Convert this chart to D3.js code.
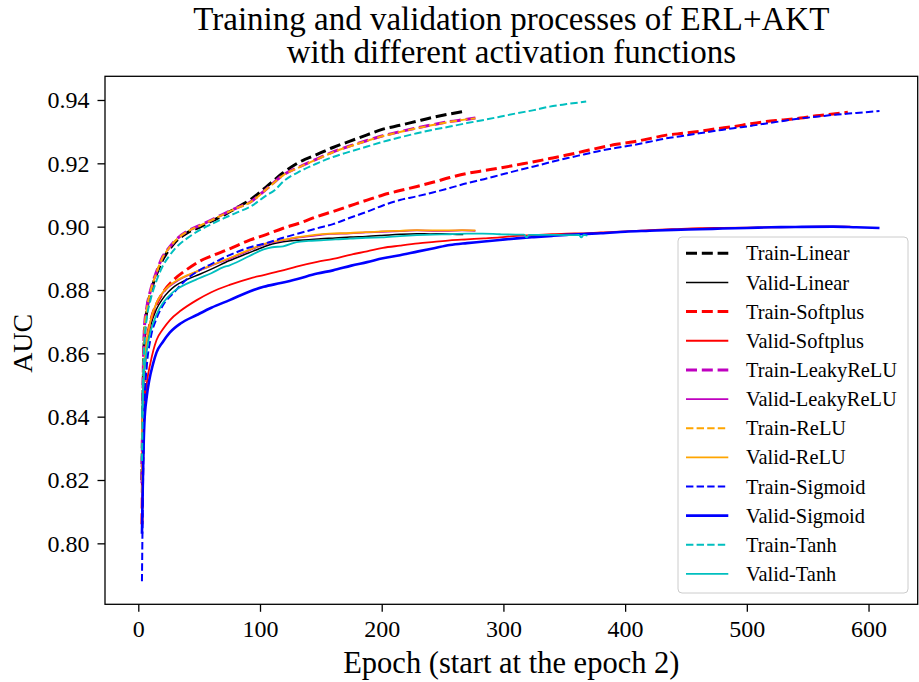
<!DOCTYPE html>
<html><head><meta charset="utf-8">
<script src="https://cdn.jsdelivr.net/npm/d3@7"></script>
<style>body{margin:0;background:#fff} svg{display:block} text{font-family:"Liberation Serif","Times New Roman",serif;fill:#000}</style>
</head><body><svg id="c" width="919" height="682"></svg>
<script>
const titleLines = ["Training and validation processes of ERL+AKT", "with different activation functions"];
const xLabel = "Epoch (start at the epoch 2)";
const yLabel = "AUC";
const xTicks = [0, 100, 200, 300, 400, 500, 600];
const yTicks = [0.80, 0.82, 0.84, 0.86, 0.88, 0.90, 0.92, 0.94];
const seriesNames = ["Train-Linear","Valid-Linear","Train-Softplus","Valid-Softplus","Train-LeakyReLU","Valid-LeakyReLU","Train-ReLU","Valid-ReLU","Train-Sigmoid","Valid-Sigmoid","Train-Tanh","Valid-Tanh"];

const trainLinear = [[3,0.820],[4,0.849],[5,0.865],[7,0.8735],[10,0.879],[15,0.885],[20,0.8895],[25,0.8925],[30,0.895],[40,0.898],[50,0.8998],[60,0.9017],[70,0.9036],[80,0.9058],[92,0.9085],[105,0.9125],[119,0.9170],[133,0.9205],[147,0.9228],[160,0.9250],[174,0.9270],[188,0.9290],[201,0.9308],[215,0.9320],[229,0.9333],[242,0.9345],[256,0.9356],[267,0.9364]];
const validLinear = [[3,0.836],[4,0.848],[5,0.855],[7,0.8625],[10,0.8685],[15,0.874],[20,0.8772],[25,0.8795],[30,0.8812],[40,0.8833],[50,0.8849],[60,0.8866],[75,0.8893],[90,0.8916],[103,0.8936],[110,0.8945],[119,0.8952],[130,0.8957],[140,0.8959],[150,0.8962],[162,0.8964],[174,0.8967],[187,0.8969],[200,0.8972],[215,0.8976],[229,0.8978],[240,0.8977],[250,0.8978],[258,0.8976],[267,0.8975]];
const trainSoftplus = [[3,0.806],[4,0.836],[5,0.853],[7,0.8635],[10,0.870],[15,0.8755],[20,0.879],[30,0.8835],[40,0.8865],[50,0.889],[60,0.8907],[75,0.893],[92,0.8958],[105,0.8975],[119,0.8995],[133,0.9012],[147,0.9032],[160,0.9048],[174,0.9066],[188,0.9084],[201,0.9100],[215,0.9114],[229,0.9127],[242,0.914],[256,0.9155],[270,0.9168],[284,0.9177],[297,0.9185],[311,0.9195],[325,0.9205],[338,0.9215],[352,0.9226],[366,0.9238],[380,0.9250],[393,0.926],[407,0.9268],[420,0.9278],[434,0.9289],[448,0.9295],[461,0.9301],[475,0.9309],[489,0.9316],[503,0.9325],[516,0.9332],[530,0.9337],[544,0.9343],[557,0.935],[571,0.9356],[583,0.9361]];
const validSoftplus = [[3,0.810],[4,0.829],[5,0.8415],[7,0.8505],[10,0.857],[15,0.8642],[20,0.8675],[26,0.8705],[35,0.8735],[48,0.8768],[60,0.8793],[75,0.8816],[92,0.8837],[103,0.8847],[117,0.886],[130,0.8874],[147,0.8889],[160,0.8898],[175,0.8912],[188,0.8922],[201,0.8933],[215,0.894],[230,0.8947],[243,0.8952],[256,0.8957],[270,0.896],[284,0.8963],[297,0.8966],[311,0.8971],[325,0.8973],[340,0.8976],[352,0.8978],[366,0.8979],[380,0.8982],[400,0.8985],[420,0.8989],[440,0.8992],[461,0.8995],[480,0.8996],[500,0.8997],[520,0.8998],[540,0.8999],[560,0.9],[585,0.9]];
const trainLeakyReLU = [[3,0.819],[4,0.852],[5,0.868],[7,0.8745],[10,0.8798],[15,0.8858],[20,0.8905],[25,0.8932],[30,0.8955],[40,0.8985],[50,0.9003],[60,0.9021],[70,0.904],[80,0.9058],[92,0.9078],[105,0.9118],[119,0.9163],[133,0.919],[147,0.9214],[160,0.9236],[174,0.9255],[188,0.9272],[201,0.9287],[215,0.93],[229,0.9312],[242,0.9322],[256,0.9332],[268,0.9338],[277,0.9343]];
const validLeakyReLU = [[3,0.832],[4,0.848],[5,0.856],[7,0.8638],[10,0.870],[15,0.8758],[20,0.879],[25,0.881],[30,0.8824],[40,0.8845],[50,0.8861],[60,0.8877],[75,0.8899],[90,0.8923],[103,0.8943],[110,0.895],[119,0.8957],[130,0.8965],[145,0.8972],[157,0.8977],[174,0.8979],[187,0.8982],[200,0.8984],[215,0.8986],[229,0.8988],[242,0.8987],[255,0.8987],[266,0.8988],[277,0.8987]];
const trainReLU = [[3,0.816],[4,0.851],[5,0.867],[7,0.874],[10,0.8795],[15,0.8855],[20,0.8903],[25,0.8931],[30,0.8954],[40,0.8984],[50,0.9002],[60,0.902],[70,0.9039],[80,0.9057],[92,0.9077],[105,0.9117],[119,0.9162],[133,0.9189],[147,0.9213],[160,0.9235],[174,0.9254],[188,0.9271],[201,0.9286],[215,0.9299],[229,0.9311],[242,0.9321],[256,0.9331],[268,0.9338],[277,0.9342]];
const validReLU = [[3,0.833],[4,0.849],[5,0.8565],[7,0.864],[10,0.8702],[15,0.876],[20,0.8792],[25,0.8812],[30,0.8826],[40,0.8846],[50,0.8862],[60,0.8878],[75,0.8901],[90,0.8925],[103,0.8945],[110,0.8952],[119,0.8958],[130,0.8966],[145,0.8974],[157,0.8978],[174,0.898],[187,0.8983],[200,0.8985],[215,0.8987],[229,0.8989],[242,0.8988],[255,0.8988],[266,0.8989],[277,0.8988]];
const trainSigmoid = [[3,0.788],[4,0.822],[5,0.843],[7,0.856],[10,0.8645],[15,0.871],[20,0.875],[30,0.8795],[40,0.8835],[50,0.8862],[60,0.8882],[75,0.891],[92,0.8935],[105,0.8948],[119,0.8965],[133,0.898],[147,0.8995],[160,0.9008],[174,0.9028],[188,0.9047],[201,0.9067],[215,0.9084],[229,0.9096],[242,0.9108],[256,0.9122],[270,0.9137],[284,0.915],[297,0.9163],[311,0.9177],[325,0.919],[338,0.9203],[352,0.9216],[366,0.9228],[380,0.924],[393,0.9249],[407,0.9258],[420,0.9268],[434,0.9279],[448,0.9287],[461,0.9295],[475,0.9303],[489,0.9311],[503,0.9318],[516,0.9326],[530,0.9334],[544,0.9342],[557,0.9347],[571,0.9353],[590,0.9359],[609,0.9365]];
const validSigmoid = [[3,0.803],[4,0.825],[5,0.838],[7,0.8465],[9,0.8515],[12,0.8565],[15,0.8603],[20,0.8635],[26,0.8666],[35,0.8695],[48,0.8721],[60,0.8744],[75,0.8768],[92,0.8796],[103,0.881],[117,0.8822],[130,0.8834],[147,0.8852],[160,0.8862],[175,0.8877],[188,0.8888],[201,0.8900],[215,0.891],[230,0.8922],[243,0.8932],[256,0.8942],[270,0.8948],[284,0.8953],[297,0.8958],[311,0.8963],[325,0.8967],[340,0.8971],[352,0.8974],[366,0.8977],[380,0.8979],[400,0.8984],[420,0.8987],[440,0.899],[461,0.8992],[480,0.8994],[500,0.8996],[520,0.8998],[540,0.8999],[571,0.9],[590,0.8998],[609,0.8996]];
const trainTanh = [[3,0.826],[4,0.851],[5,0.863],[7,0.8712],[10,0.8768],[15,0.883],[20,0.8875],[25,0.8905],[30,0.893],[40,0.8963],[50,0.8988],[60,0.9008],[70,0.9026],[80,0.9043],[92,0.9063],[105,0.9098],[112,0.9115],[119,0.9142],[133,0.9175],[147,0.9200],[160,0.9220],[174,0.9237],[188,0.9253],[201,0.9268],[215,0.9282],[229,0.9295],[242,0.9306],[256,0.9316],[270,0.9327],[284,0.9337],[297,0.9347],[311,0.9358],[325,0.9368],[338,0.9379],[352,0.9387],[368,0.9395]];
const validTanh = [[3,0.840],[4,0.849],[5,0.8548],[7,0.861],[10,0.8668],[15,0.8722],[20,0.8757],[25,0.878],[30,0.8798],[40,0.882],[50,0.8837],[60,0.8853],[70,0.8872],[75,0.8878],[80,0.8886],[90,0.8905],[103,0.8928],[110,0.8935],[119,0.8938],[130,0.8951],[140,0.8955],[150,0.8957],[162,0.896],[174,0.8962],[187,0.8965],[200,0.8966],[215,0.897],[229,0.8973],[242,0.8975],[256,0.8976],[270,0.8978],[283,0.8978],[297,0.8976],[310,0.8975],[317,0.8975],[319,0.8966],[321,0.8974],[333,0.8974],[345,0.8974],[355,0.8973],[362,0.8974],[364,0.8966],[366,0.8974],[369,0.8972]];

const seriesData = [trainLinear, validLinear, trainSoftplus, validSoftplus, trainLeakyReLU, validLeakyReLU, trainReLU, validReLU, trainSigmoid, validSigmoid, trainTanh, validTanh];

// styles (separate from data)
const colors = ["#000000","#000000","#ff0000","#ff0000","#bf00bf","#bf00bf","#ffa500","#ffa500","#0000ff","#0000ff","#00bfbf","#00bfbf"];
const widths = [3, 1.5, 3, 1.8, 3, 1.8, 2, 1.8, 2, 2.6, 2, 1.8];
const dashes = ["11 4.8", null, "11 4.8", null, "11 4.8", null, "7.4 3.2", null, "7.4 3.2", null, "7.4 3.2", null];

const svg = d3.select("#c");
const L = 105, R = 917.7, T = 76.3, B = 604.3;
const x = d3.scaleLinear().domain([-27.36, 640.4]).range([L, R]);
const y = d3.scaleLinear().domain([0.78075, 0.94748]).range([B, T]);

// lines
const line = d3.line().x(d => x(d[0])).y(d => y(d[1])).curve(d3.curveMonotoneX);
const g = svg.append("g");
seriesData.forEach((s, i) => {
  g.append("path").datum(s).attr("d", line)
    .attr("fill", "none").attr("stroke", colors[i]).attr("stroke-width", widths[i])
    .attr("stroke-dasharray", dashes[i]).attr("stroke-linejoin", "round");
});

// axes
const yAxis = d3.axisLeft(y).tickValues(yTicks).tickFormat(d3.format(".2f")).tickSize(7.5).tickPadding(8);
const xAxis = d3.axisBottom(x).tickValues(xTicks).tickFormat(d3.format("d")).tickSize(7.5).tickPadding(8.2);
const ya = svg.append("g").attr("transform", `translate(${L},0)`).call(yAxis);
const xa = svg.append("g").attr("transform", `translate(0,${B})`).call(xAxis);
[ya, xa].forEach(a => {
  a.select(".domain").remove();
  a.selectAll(".tick line").attr("stroke", "#000").attr("stroke-width", 1.3);
  a.selectAll(".tick text").attr("font-size", 24).attr("font-family", "Liberation Serif").attr("fill", "#000");
});

// frame
svg.append("rect").attr("x", L).attr("y", T).attr("width", R - L).attr("height", B - T)
  .attr("fill", "none").attr("stroke", "#000").attr("stroke-width", 1.3);

// title
svg.append("text").attr("x", (L + R) / 2).attr("y", 30).attr("text-anchor", "middle").attr("font-size", 33).text(titleLines[0]);
svg.append("text").attr("x", (L + R) / 2).attr("y", 63).attr("text-anchor", "middle").attr("font-size", 33).text(titleLines[1]);

// axis labels
svg.append("text").attr("x", (L + R) / 2).attr("y", 673).attr("text-anchor", "middle").attr("font-size", 30.5).text(xLabel);
svg.append("text").attr("transform", `translate(32,${(T + B) / 2 + 3}) rotate(-90)`).attr("text-anchor", "middle").attr("font-size", 28).text(yLabel);

// legend
const lg = svg.append("g");
lg.append("rect").attr("x", 678).attr("y", 237).attr("width", 230).attr("height", 356).attr("rx", 4)
  .attr("fill", "#fff").attr("fill-opacity", 0.8).attr("stroke", "#cccccc").attr("stroke-width", 1);
seriesNames.forEach((n, i) => {
  const cy = 253.3 + i * 29.15;
  lg.append("line").attr("x1", 686).attr("x2", 728.3).attr("y1", cy).attr("y2", cy)
    .attr("stroke", colors[i]).attr("stroke-width", widths[i]).attr("stroke-dasharray", dashes[i]);
  lg.append("text").attr("x", 746).attr("y", cy).attr("dy", "0.35em").attr("font-size", 20.4).text(n);
});
</script></body></html>
